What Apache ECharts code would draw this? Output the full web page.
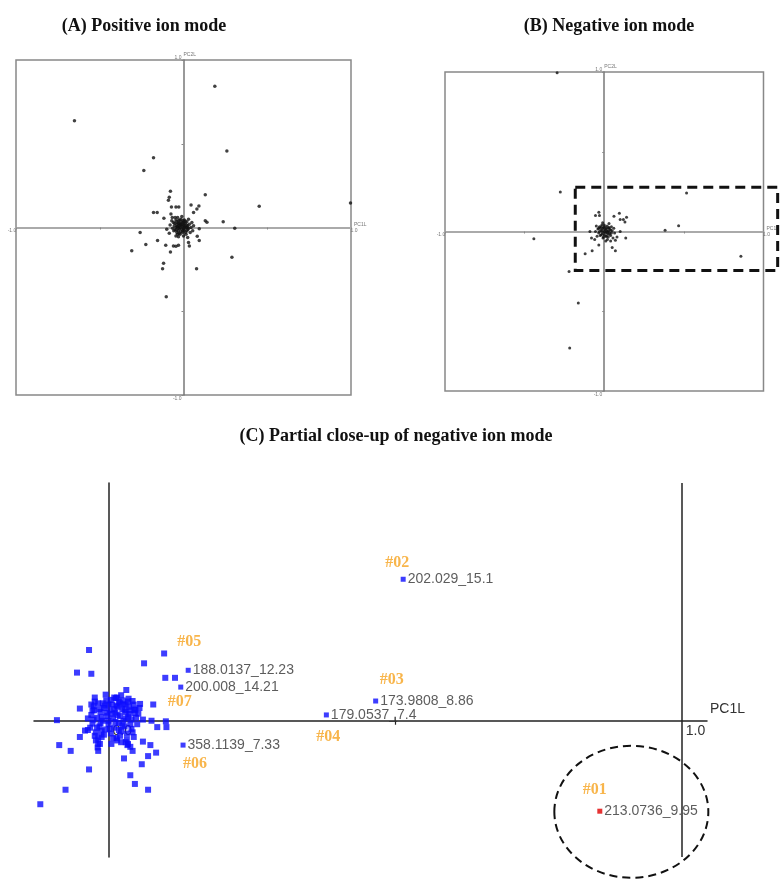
<!DOCTYPE html>
<html>
<head>
<meta charset="utf-8">
<script src="https://cdn.jsdelivr.net/npm/echarts@6/dist/echarts.min.js"></script>
<style>
  body { margin: 0; background: #fff; }
  #main { width: 780px; height: 880px; }
</style>
</head>
<body>
<div id="main"></div>
<script>
// loadings plot, positive ion mode (PC1L, PC2L)
const posA = [
  [0.187,0.844],[-0.651,0.637],[0.259,0.456],[-0.179,0.416],[-0.237,0.340],[0.997,0.147],
  [0.452,0.127],[0.130,0.195],[0.237,0.034],[0.306,-0.004],[0.289,-0.177],[0.078,-0.247],
  [-0.103,-0.414],[-0.125,-0.247],[-0.119,-0.213],[-0.309,-0.139],[-0.259,-0.030],[-0.225,-0.101],
  [-0.155,-0.078],[-0.106,-0.106],[-0.078,-0.147],[-0.060,-0.110],[-0.045,-0.112],[-0.030,-0.106],
  [0.030,-0.090],[0.035,-0.110],[0.082,-0.052],[0.094,-0.077],[-0.078,0.217],[-0.085,0.180],
  [-0.090,0.163],[-0.179,0.090],[-0.157,0.090],[-0.072,0.122],[-0.045,0.123],[-0.028,0.123],
  [0.045,0.135],[0.092,0.128],[0.080,0.110],[0.060,0.090],[0.130,0.040],[0.140,0.032],
  [-0.117,0.055],[-0.075,0.080],[-0.067,0.060],[0.094,-0.008],[-0.100,-0.010],[0.050,0.030],
  [0.045,0.000],
  [-0.060,0.030],[-0.055,0.010],[-0.050,-0.015],[-0.045,0.045],[-0.040,0.020],[-0.040,-0.030],
  [-0.035,0.005],[-0.030,0.040],[-0.030,-0.020],[-0.025,0.025],[-0.020,0.000],[-0.020,-0.040],
  [-0.015,0.050],[-0.015,0.015],[-0.010,-0.010],[-0.005,0.030],[-0.005,-0.030],[0.000,0.010],
  [0.005,0.045],[0.005,-0.015],[0.010,0.025],[0.015,0.000],[0.015,-0.040],[0.020,0.035],
  [0.020,-0.020],[0.025,0.010],[0.030,-0.005],[0.030,0.050],[-0.065,-0.005],[-0.070,0.040],
  [0.035,0.020],[-0.050,0.060],[0.000,-0.050],[-0.030,-0.055],[0.040,-0.030],[-0.080,0.015],
  [0.025,-0.060],[-0.010,0.065],[-0.035,0.060],[0.060,0.010],[-0.045,-0.050],[-0.085,-0.035],
  [0.055,-0.020],
  [-0.045,0.000],[-0.040,0.035],[-0.035,-0.040],[-0.028,0.012],[-0.024,-0.008],[-0.022,0.045],
  [-0.018,0.020],[-0.012,0.035],[-0.008,0.005],[-0.004,-0.020],[0.002,0.022],[0.008,0.008],
  [0.012,-0.028],[0.018,0.015],[0.022,0.000],[-0.052,0.025],[-0.038,0.008],[-0.032,-0.005],
  [-0.016,-0.025],[-0.002,0.040],[0.010,0.038],[0.026,-0.012],[-0.058,-0.020],[-0.026,-0.035],
  [0.000,-0.008],[-0.010,0.018],[-0.020,0.010],[-0.030,0.025],[0.005,0.000],[-0.042,-0.015]
];

// loadings plot, negative ion mode
const negB = [
  [-0.296,0.995],[-0.276,0.247],[-0.442,-0.046],[0.517,0.241],[0.382,0.008],[0.467,0.036],
  [0.858,-0.155],[-0.221,-0.250],[-0.163,-0.448],[-0.217,-0.731],[-0.120,-0.140],[-0.076,-0.120],
  [-0.034,-0.084],[-0.034,0.121],[-0.055,0.100],[-0.030,0.100],[0.061,0.096],[0.095,0.115],
  [0.100,0.075],[0.120,0.075],[0.140,0.090],[0.130,0.060],[0.135,-0.040],[0.070,-0.120],
  [0.050,-0.100],[-0.090,0.000],[-0.080,-0.040],[-0.060,-0.050],[0.070,-0.055],[0.080,-0.035],
  [0.100,0.000],
  [-0.040,0.015],[-0.035,-0.010],[-0.030,0.030],[-0.025,-0.025],[-0.020,0.005],[-0.015,0.040],
  [-0.012,-0.015],[-0.008,0.020],[-0.005,-0.035],[0.000,0.000],[0.004,0.030],[0.008,-0.010],
  [0.010,0.015],[0.014,-0.030],[0.018,0.035],[0.020,0.002],[0.024,-0.018],[0.028,0.022],
  [0.032,-0.004],[0.036,0.012],[0.040,-0.025],[0.045,0.030],[0.050,0.005],[-0.045,-0.030],
  [-0.050,0.035],[0.055,-0.040],[0.060,0.020],[-0.010,0.055],[0.020,-0.050],[0.030,0.050],
  [0.065,-0.010],[-0.055,0.000],[0.040,-0.060],[0.010,-0.060],
  [-0.030,0.000],[-0.025,0.020],[-0.020,-0.020],[-0.015,0.010],[-0.010,-0.005],[-0.005,0.025],
  [0.000,-0.020],[0.005,0.010],[0.010,-0.030],[0.015,0.020],[0.020,-0.010],[0.025,0.005],
  [0.030,0.025],[0.035,-0.015],[-0.020,0.030],[0.000,0.040],[0.012,0.000],[-0.008,-0.040],
  [0.025,-0.035],[0.040,0.010],[-0.035,0.020],[0.045,-0.010]
];

// close-up, unlabelled ions
const closeC = [
  [-0.034,0.122],[-0.055,0.083],[-0.030,0.081],[0.062,0.099],[0.097,0.116],[0.099,0.074],
  [0.116,0.074],[0.031,0.053],[-0.090,0.001],[-0.050,0.021],[0.078,0.028],[0.060,0.002],
  [0.075,0.000],[0.085,-0.011],[0.100,-0.001],[0.101,-0.011],[0.055,0.029],[0.045,0.019],
  [-0.086,-0.042],[-0.066,-0.052],[-0.050,-0.028],[-0.034,-0.084],[-0.075,-0.119],[-0.119,-0.144],
  [0.027,-0.065],[0.042,-0.052],[0.060,-0.036],[0.073,-0.042],[0.069,-0.061],[0.083,-0.055],
  [0.058,-0.075],[0.038,-0.094],[0.046,-0.109],[0.069,-0.119],[-0.019,-0.046],[-0.018,-0.052],
  [0.015,-0.034],[0.022,-0.037],[0.030,-0.037],[0.033,-0.042],[0.038,-0.045],[-0.024,0.033],
  [-0.025,0.018],[0.013,0.039],[0.018,0.033],[0.035,0.038],[0.034,0.033],[0.047,0.019],
  [0.046,0.013],[-0.041,-0.017],[-0.036,-0.016],[-0.022,-0.034],[-0.018,-0.040],
  [-0.030,0.010],[-0.028,-0.005],[-0.026,0.025],[-0.022,-0.020],[-0.020,0.005],[-0.018,0.030],
  [-0.016,-0.010],[-0.014,0.015],[-0.012,-0.028],[-0.010,0.000],[-0.008,0.022],[-0.006,-0.015],
  [-0.004,0.035],[-0.002,0.008],[0.000,-0.006],[0.002,0.018],[0.004,-0.022],[0.006,0.028],
  [0.008,0.004],[0.010,-0.012],[0.012,0.014],[0.014,-0.030],[0.016,0.024],[0.018,-0.004],
  [0.020,0.008],[0.022,-0.018],[0.024,0.020],[0.026,0.000],[0.028,-0.010],[0.030,0.015],
  [0.032,-0.022],[0.034,0.006],[0.036,0.024],[0.038,-0.006],[0.040,0.002],[-0.032,-0.012],
  [-0.024,0.040],[-0.005,0.045],[0.015,0.040],[0.025,0.035],[-0.015,-0.040],[0.005,-0.040],
  [0.042,-0.020],[0.048,0.005],[-0.036,0.004],[0.000,0.028],[0.010,0.020],[-0.012,-0.018],
  [0.020,-0.026],[0.030,0.028],
  [-0.020,-0.012],[-0.016,0.020],[-0.012,0.006],[-0.008,-0.024],[-0.004,0.014],[0.000,0.000],
  [0.004,0.036],[0.008,-0.030],[0.012,-0.002],[0.016,0.010],[0.020,0.030],[0.024,-0.008],
  [0.028,0.018],[0.032,-0.032],[0.036,0.012],[0.040,-0.014],[0.044,0.028],[-0.028,0.018],
  [-0.024,-0.026],[-0.010,0.030],[0.006,0.012],[0.018,-0.016],[0.026,0.028],[0.038,0.018],
  [0.050,-0.006],[0.052,0.012],[-0.026,0.002],[-0.014,-0.004],[0.002,-0.014],[0.014,0.026],
  [0.030,0.004],[0.042,0.034],[-0.018,-0.030],[0.010,0.040],[0.022,0.044],[-0.006,0.026],
  [0.034,-0.040],[0.044,-0.028],[0.054,0.022],[-0.030,0.028]
];

// close-up, marked ions
const ionIds   = ['#01', '#02', '#03', '#04', '#05', '#06', '#07'];
const ionNames = ['213.0736_9.95', '202.029_15.1', '173.9808_8.86', '179.0537_7.4',
                  '188.0137_12.23', '358.1139_7.33', '200.008_14.21'];
const ionX = [0.857, 0.514, 0.466, 0.380, 0.139, 0.130, 0.126];
const ionY = [-0.156, 0.244, 0.034, 0.010, 0.087, -0.042, 0.058];

const titles = ['(A) Positive ion mode', '(B) Negative ion mode', '(C) Partial close-up of negative ion mode'];

// tick labels
const smallTickVals = [-1, 1];
const smallTickLabels = ['-1.0', '1.0'];
const closeTickVals = [0, 1];
const closeTickLabels = ['0.0', '1.0'];

// where each orange id sits relative to its point (px)
const idOffset = {
  '#01': [-5, -21], '#02': [-6, -16], '#03': [16, -21], '#04': [2, 22],
  '#05': [1, -28], '#06': [12, 19], '#07': [-1, 15]
};

const serif = '"Liberation Serif", "Times New Roman", serif';
const sans = '"Liberation Sans", Arial, sans-serif';
const blue = '#0c0cff';

function smallAxis(dim, grid, name, lineColor, lineWidth) {
  return {
    gridIndex: grid, type: 'value', min: -1, max: 1, interval: 0.5,
    name: name, nameGap: 3,
    nameTextStyle: dim === 'x'
      ? { fontSize: 5, color: '#777', verticalAlign: 'bottom' }
      : { fontSize: 5, color: '#777', align: 'left' },
    axisLine: { onZero: true, lineStyle: { color: lineColor, width: lineWidth } },
    axisTick: { length: 2, lineStyle: { color: '#888' } },
    axisLabel: { show: false },
    splitLine: { show: false }
  };
}

const chart = echarts.init(document.getElementById('main'));

const ionData = ionX.map((x, i) => ({
  value: [x, ionY[i]],
  itemStyle: { color: i === 0 ? '#e00000' : blue }
}));
const idData = ionX.map((x, i) => ({
  value: [x, ionY[i]],
  label: { offset: idOffset[ionIds[i]] }
}));

chart.setOption({
  backgroundColor: '#fff',
  animation: false,
  title: [
    { text: titles[0], left: 139, top: 12, textAlign: 'center' },
    { text: titles[1], left: 604, top: 12, textAlign: 'center' },
    { text: titles[2], left: 391, top: 422, textAlign: 'center' }
  ].map(t => Object.assign(t, {
    textStyle: { fontFamily: serif, fontWeight: 'bold', fontSize: 18, color: '#111' }
  })),
  grid: [
    { left: 16, top: 60, width: 335, height: 335, show: true, borderColor: '#888', borderWidth: 1.5 },
    { left: 445, top: 72, width: 321, height: 319, show: true, borderColor: '#888', borderWidth: 1.5 },
    { left: 34, top: 483, width: 673, height: 374 }
  ],
  xAxis: [
    smallAxis('x', 0, 'PC1L', '#aaa', 2),
    smallAxis('x', 1, 'PC1L', '#aaa', 2),
    {
      gridIndex: 2, type: 'value', min: -0.13, max: 1.044,
      name: 'PC1L', nameGap: 3,
      nameTextStyle: { fontFamily: sans, fontSize: 14, color: '#333', verticalAlign: 'bottom', padding: [0, 0, 5, 0] },
      axisLine: { onZero: true, lineStyle: { color: '#222', width: 1.5 } },
      axisTick: { show: true, length: 4, customValues: [0.5], lineStyle: { color: '#222', width: 1.2 } },
      axisLabel: { show: false },
      splitLine: { show: false }
    }
  ],
  yAxis: [
    smallAxis('y', 0, 'PC2L', '#777', 1.5),
    smallAxis('y', 1, 'PC2L', '#777', 1.5),
    {
      gridIndex: 2, type: 'value', min: -0.235, max: 0.41,
      axisLine: { onZero: true, lineStyle: { color: '#222', width: 1.5 } },
      axisTick: { show: false }, axisLabel: { show: false }, splitLine: { show: false }
    }
  ],
  series: [
    {
      type: 'scatter', xAxisIndex: 0, yAxisIndex: 0, data: posA,
      symbol: 'circle', symbolSize: 3.5, itemStyle: { color: '#111' }
    },
    {
      type: 'scatter', xAxisIndex: 1, yAxisIndex: 1, data: negB,
      symbol: 'circle', symbolSize: 3, itemStyle: { color: '#111' }
    },
    {
      type: 'scatter', xAxisIndex: 2, yAxisIndex: 2, data: closeC,
      symbol: 'rect', symbolSize: 6, itemStyle: { color: blue },
      markLine: {
        silent: true, symbol: 'none', label: { show: false },
        lineStyle: { color: '#222', width: 1.5, type: 'solid' },
        data: [{ xAxis: 1.0 }]
      }
    },
    {
      type: 'scatter', xAxisIndex: 2, yAxisIndex: 2, data: ionData,
      symbol: 'rect', symbolSize: 5,
      label: {
        show: true, position: 'right', distance: 2,
        formatter: p => ionNames[p.dataIndex],
        fontFamily: sans, fontSize: 14, color: '#333'
      }
    },
    {
      type: 'scatter', xAxisIndex: 2, yAxisIndex: 2, data: idData,
      symbol: 'circle', symbolSize: 1, itemStyle: { color: 'rgba(0,0,0,0)' },
      label: {
        show: true, position: 'inside',
        formatter: p => ionIds[p.dataIndex],
        fontFamily: serif, fontWeight: 'bold', fontSize: 16, color: '#f6a21e'
      }
    }
  ]
});

// axis end labels placed at the axis line (which sits at zero), dashed box in (B), dashed ring in (C)
const graphics = [];
[0, 1].forEach(g => {
  smallTickVals.forEach((v, i) => {
    const px = chart.convertToPixel({ gridIndex: g }, [v, 0]);
    graphics.push({
      type: 'text', x: px[0] + (v < 0 ? -4 : 3), y: px[1] + 3,
      style: { text: smallTickLabels[i], fontSize: 5, fill: '#777', align: 'center', verticalAlign: 'middle' }
    });
    const py = chart.convertToPixel({ gridIndex: g }, [0, v]);
    graphics.push({
      type: 'text', x: py[0] - 2, y: py[1] + (v < 0 ? 4 : -2),
      style: { text: smallTickLabels[i], fontSize: 5, fill: '#777', align: 'right', verticalAlign: 'middle' }
    });
  });
});
closeTickVals.forEach((v, i) => {
  const p = chart.convertToPixel({ gridIndex: 2 }, [v, 0]);
  graphics.push({
    type: 'text', x: p[0] + 4, y: p[1] + 10, z: 1,
    style: { text: closeTickLabels[i], fontFamily: sans, fontSize: 14, fill: '#333', align: 'left', verticalAlign: 'middle' }
  });
});
// tick at 0.5 crosses the axis upward too
const tickUp = chart.convertToPixel({ gridIndex: 2 }, [0.5, 0]);
graphics.push({
  type: 'line', shape: { x1: tickUp[0], y1: tickUp[1] - 4, x2: tickUp[0], y2: tickUp[1] },
  style: { stroke: '#222', lineWidth: 1.2 }
});

const boxTL = chart.convertToPixel({ gridIndex: 1 }, [-0.182, 0.277]);
const boxBR = chart.convertToPixel({ gridIndex: 1 }, [1.089, -0.245]);
const ring = chart.convertToPixel({ gridIndex: 2 }, [0.912, -0.157]);
graphics.push(
  {
    type: 'rect', z: 10,
    shape: { x: boxTL[0], y: boxTL[1], width: boxBR[0] - boxTL[0], height: boxBR[1] - boxTL[1] },
    style: { fill: 'none', stroke: '#111', lineWidth: 3, lineDash: [10, 6] }
  },
  {
    type: 'ellipse', z: 10,
    shape: { cx: ring[0], cy: ring[1], rx: 77, ry: 66 },
    style: { fill: 'none', stroke: '#111', lineWidth: 2, lineDash: [8, 5] }
  }
);
chart.setOption({ graphic: graphics });
</script>
</body>
</html>
